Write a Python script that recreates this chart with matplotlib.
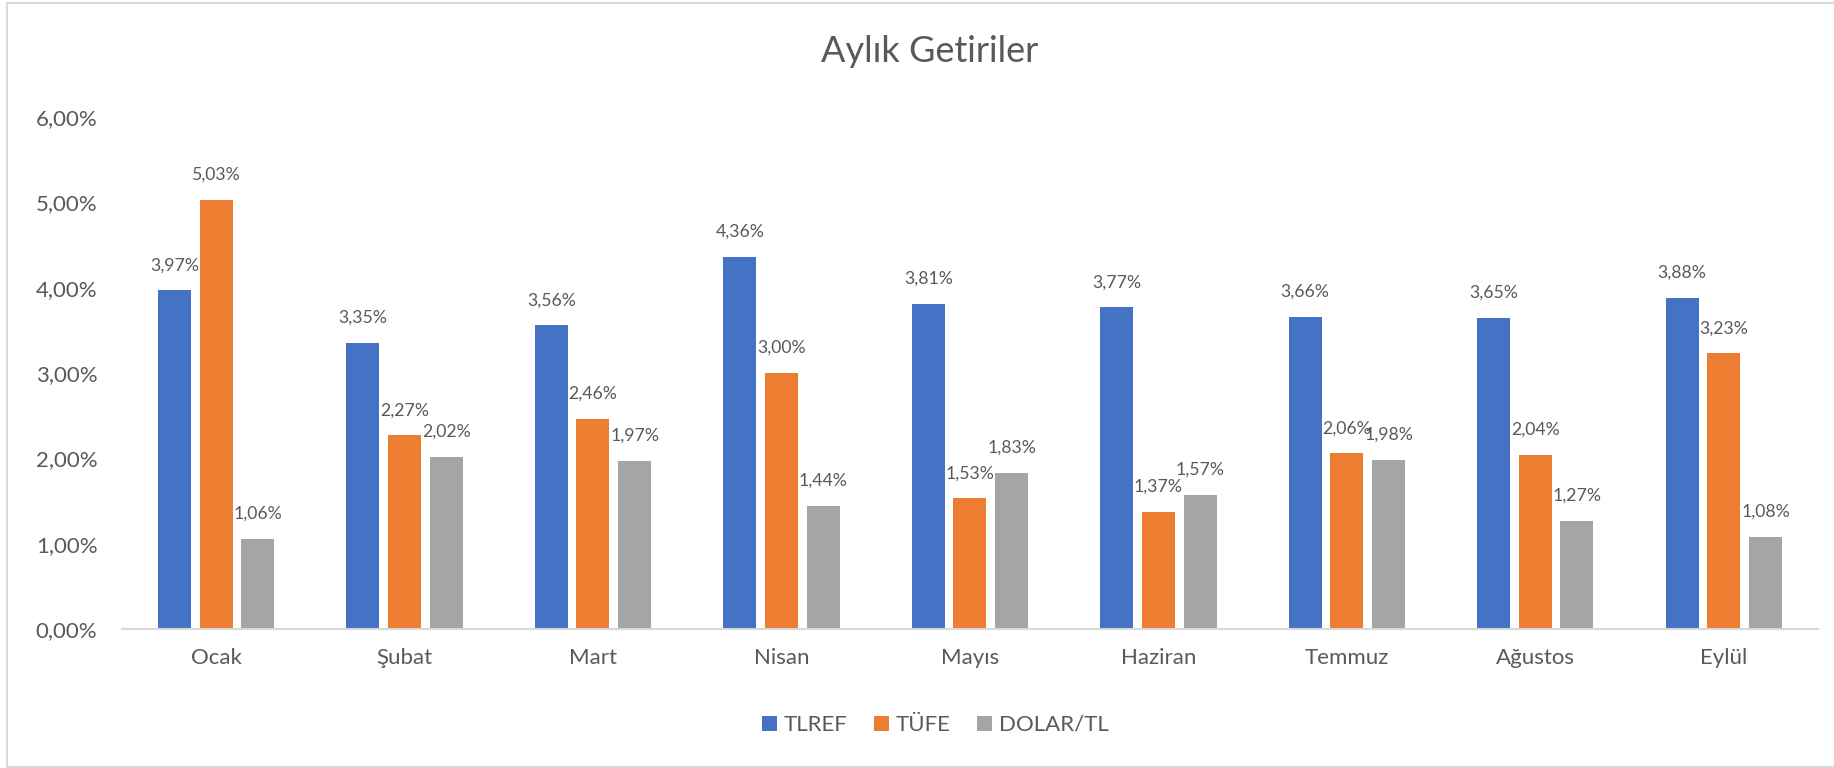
import matplotlib
matplotlib.use("Agg")
import matplotlib.pyplot as plt
from matplotlib.lines import Line2D
import numpy as np

# data
months = ["Ocak", "Şubat", "Mart", "Nisan", "Mayıs", "Haziran", "Temmuz", "Ağustos", "Eylül"]
tlref = [3.97, 3.35, 3.56, 4.36, 3.81, 3.77, 3.66, 3.65, 3.88]
tufe = [5.03, 2.27, 2.46, 3.00, 1.53, 1.37, 2.06, 2.04, 3.23]
dolar_tl = [1.06, 2.02, 1.97, 1.44, 1.83, 1.57, 1.98, 1.27, 1.08]
series_names = ["TLREF", "TÜFE", "DOLAR/TL"]
yticks = [0, 1, 2, 3, 4, 5, 6]

colors = ["#4472C4", "#ED7D31", "#A5A5A5"]
text_col = "#595959"
plt.rcParams["font.family"] = ["Lato", "DejaVu Sans"]


def pct(v):
    return f"{v:.2f}%".replace(".", ",")


fig = plt.figure(figsize=(18.34, 7.68), dpi=100)
ax = fig.add_axes([0.0664, 0.181, 0.9249, 0.6667])

x = np.arange(len(months))
w = 0.175
step = 0.221
for i, (vals, name) in enumerate(zip([tlref, tufe, dolar_tl], series_names)):
    bars = ax.bar(x + (i - 1) * step, vals, width=w, color=colors[i], label=name, zorder=2)
    for b, v in zip(bars, vals):
        ax.annotate(pct(v), (b.get_x() + b.get_width() / 2, v), xytext=(0, 18),
                    textcoords="offset points", ha="center", va="center",
                    fontsize=12.7, color=text_col)

ax.set_xlim(-0.5, len(months) - 0.5)
ax.set_ylim(0, 6)
ax.set_yticks(yticks)
ax.set_yticklabels([pct(t) for t in yticks])
ax.set_xticks(x)
ax.set_xticklabels(months)
ax.tick_params(axis="y", length=0, pad=17.5, labelsize=16, labelcolor=text_col)
ax.tick_params(axis="x", length=0, pad=14, labelsize=16, labelcolor=text_col)
for s in ["top", "right", "left"]:
    ax.spines[s].set_visible(False)
ax.spines["bottom"].set_color("#D9D9D9")
ax.spines["bottom"].set_linewidth(1.5)
ax.spines["bottom"].set_zorder(3)

fig.text(0.507, 1 - 52 / 768, "Aylık Getiriler", ha="center", va="center",
         fontsize=26, color=text_col)

handles, labels = ax.get_legend_handles_labels()
leg = fig.legend(handles, labels, loc="center", bbox_to_anchor=(0.51, 0.056), ncol=3,
                 frameon=False, fontsize=16, handlelength=0.68, handleheight=0.68,
                 handletextpad=0.3, columnspacing=1.2, labelcolor=text_col)

# chart area border (left, top, bottom)
for xs, ys in [([7 / 1834, 7 / 1834], [3 / 768, 765 / 768]),
               ([7 / 1834, 1], [765 / 768, 765 / 768]),
               ([7 / 1834, 1], [1.5 / 768, 1.5 / 768])]:
    fig.add_artist(Line2D(xs, ys, transform=fig.transFigure, color="#D9D9D9", lw=1.5))

fig.savefig("out.png", dpi=100)
